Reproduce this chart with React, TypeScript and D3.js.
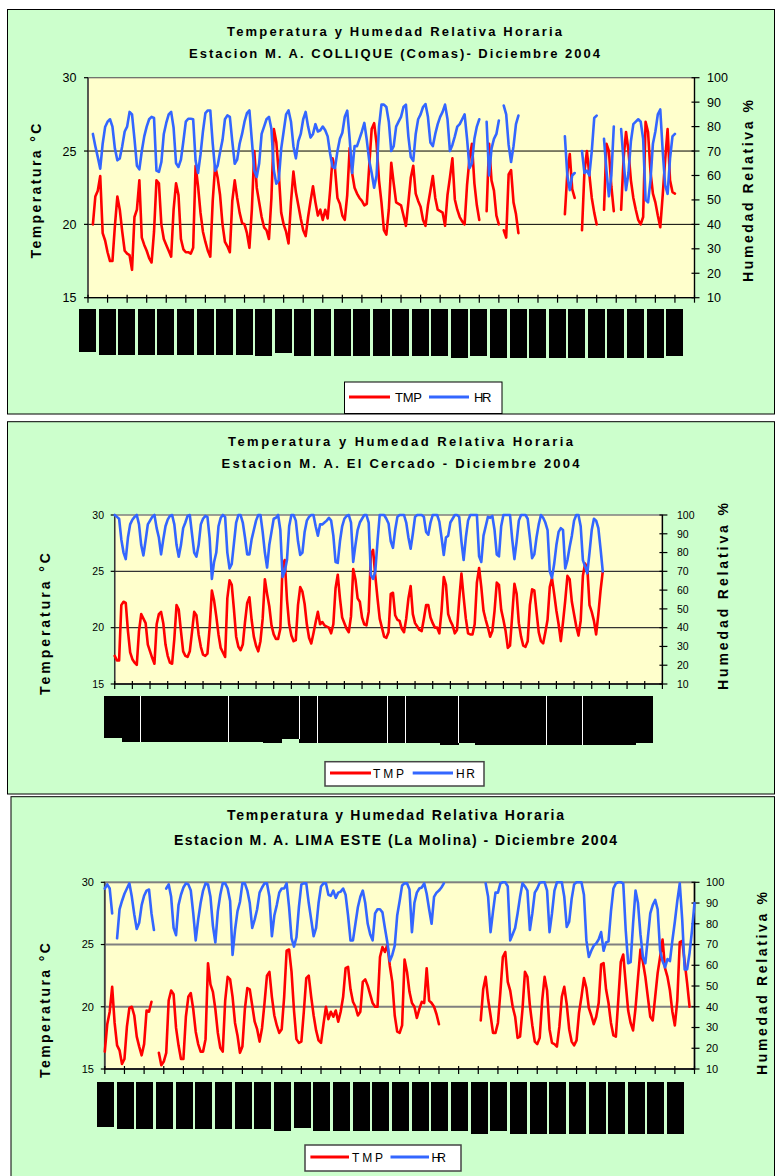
import React from "react";
import * as d3 from "d3";

const _ = null;

// Values sampled every 3 hours (00,03,06,09,12,15,18,21 h) for each day of December 2004.
// ---------- Estacion M. A. COLLIQUE (Comas) ----------
const collTmp: (number | null)[] = [
  _, _, 20, 21.9, 22.3, 23.3, 19.4, 18.9,
  18.1, 17.5, 17.5, 19.9, 21.9, 21, 19.5, 18.2,
  18, 17.9, 16.9, 20.5, 21, 23, 19.1, 18.6,
  18.2, 17.7, 17.4, 19.5, 23, 22.8, 20, 19,
  18.6, 18.2, 17.8, 21, 22.8, 22, 19, 18.3,
  18.1, 18.1, 18, 18.4, 24, 22.6, 20.8, 19.5,
  18.8, 18.2, 17.8, 21.6, 24, 23.2, 22, 20,
  18.8, 18.5, 18.1, 21.6, 23, 21.8, 20.8, 20.1,
  20, 19.4, 18.4, 21, 25, 22.5, 21.5, 20.5,
  19.8, 19.6, 19, 21.8, 26.5, 25.6, 23.5, 20.8,
  20, 19.5, 18.7, 21.5, 23.6, 22.2, 21.3, 20.4,
  19.6, 19.2, 20.5, 21.6, 22.6, 21.5, 20.6, 21,
  20.3, 21, 20.4, 22.3, 24.5, 23.8, 21.8, 21.4,
  20.6, 20.3, 22, 25.2, 23.5, 22.5, 22.1, 21.8,
  21.6, 21.3, 21.4, 24, 26.5, 26.9, 25.5, 23,
  21.5, 19.6, 19.3, 21, 24.2, 22.8, 21.5, 21.4,
  21.3, 20.6, 19.9, 21.5, 23.2, 24, 22.1, 21.6,
  21.2, 20.3, 19.9, 21.3, 22.3, 23.3, 21.8, 21,
  20.9, 20.8, 19.9, 22, 23.2, 24.5, 21.7, 21,
  20.5, 20.2, 20, 22.7, 24.5, 25.5, 22.8, 21.3,
  20.3, _, _, 20.9, 25.5, 23, 22.3, 20.6,
  20, _, 19.6, 19.1, 23.4, 23.7, 21.5, 20.7,
  19.4, _, _, _, _, _, _, _,
  _, _, _, _, _, _, _, _,
  _, _, _, 20.7, 23.5, 24.8, 22.4, 21.8,
  _, _, 19.6, 23.6, 25, 23.4, 21.8, 20.8,
  20, _, _, 21, 25.5, 25, 22.6, 20.9,
  _, _, 21, 24.5, 26.3, 25, 23, 21.8,
  21, 20.3, 20, 20.5, 27, 26.3, 23.6, 22.1,
  21.5, 20.6, 19.8, 22, 24.4, 26.5, 23, 22.2,
  22.1, _, _, _, _, _, _, _,
];
const collHr: (number | null)[] = [
  _, _, 77, 72, 67.5, 62.8, 73, 79.8,
  82, 83, 80, 71, 66.2, 67, 72, 78,
  80, 86, 85, 75, 64, 62.5, 70, 76,
  80, 83, 84, 83.5, 62, 61.5, 65.5, 77,
  81.5, 85, 86, 79.5, 65, 63.5, 66.5, 74,
  82, 83.2, 83.2, 83, 66, 61, 68.5, 78,
  85.5, 86.6, 86.6, 73, 62, 64, 69.5, 74.5,
  83, 84.6, 84, 74, 64.8, 66.5, 73, 77,
  82, 85.5, 86.6, 74.4, 62, 59.4, 65, 77,
  80, 83, 84, 79, 62, 56.6, 58, 71,
  78, 85, 86.6, 82, 72, 67, 74, 77,
  83, 86, 80, 75.5, 77, 81, 78, 78.5,
  80, 78.5, 76, 69, 63.5, 63, 70, 75,
  77.5, 84, 86.5, 75, 61, 72, 72, 75,
  78, 81.5, 74.5, 66, 61, 55, 60, 80,
  89, 89, 88, 82, 70, 72, 80, 82,
  84, 88, 89, 76, 67.5, 66, 77, 83,
  85, 88, 89.2, 84, 73.5, 72, 77, 81,
  84, 86, 89, 83, 70, 72.5, 76, 80,
  81, 83, 85, 75, 63, 65, 75, 80,
  83, _, _, 82, 60, 71, 75, 77,
  82.5, _, 88.6, 85, 72.5, 65.5, 72, 81,
  84.5, _, _, _, _, _, _, _,
  _, _, _, _, _, _, _, _,
  _, _, _, 76, 60, 54, 60, 61,
  _, _, 70, 61, 62, 60, 70, 83.5,
  84.5, _, _, 75, 62, 51.5, 60, 80,
  _, _, 79, 66, 54, 61, 74, 81,
  82, 83, 82, 75, 50, 49, 58, 73,
  78, 85, 87, 70, 56, 52.5, 67, 76,
  77, _, _, _, _, _, _, _,
];

// ---------- Estacion M. A. El Cercado ----------
const cercTmp: (number | null)[] = [
  17.5, 17.1, 17.1, 22, 22.3, 22.2, 19.7, 17.8,
  17.2, 16.9, 16.7, 19.7, 21.2, 20.8, 20.4, 18.5,
  17.9, 17.3, 16.8, 20.3, 21.2, 21.4, 20.4, 18.5,
  17.5, 16.9, 16.8, 19, 22, 21.6, 19.7, 17.9,
  17.5, 17.4, 17.9, 19.6, 21.4, 21.1, 19.4, 18.3,
  17.6, 17.5, 17.7, 20, 23.3, 22.4, 21, 19.4,
  18.2, 17.8, 17.4, 22.6, 24.2, 23.8, 21.6, 19.2,
  18.3, 18, 18.5, 20.5, 22.2, 22.7, 20.7, 19.2,
  18.4, 17.9, 18.8, 20.8, 24.3, 23, 21.9, 20.2,
  19.4, 19, 19, 19.9, 25.5, 26, 22.5, 20.3,
  19.3, 18.8, 18.9, 22, 23.6, 23.2, 22.1, 20.3,
  19.1, 18.6, 19.5, 20.5, 21.4, 20.3, 20.5, 20.2,
  20.1, 20, 19.5, 20.3, 23.5, 24.7, 22.6, 20.9,
  20.4, 19.9, 19.6, 21, 25.2, 24.3, 22.6, 22.3,
  20.9, 20.3, 20.2, 21.4, 26.5, 26.9, 24.6, 22.6,
  20.8, 20, 19.2, 19.1, 19.6, 23, 23.1, 21.1,
  20.7, 20.6, 19.9, 19.6, 20.8, 22.6, 23.7, 21.2,
  20.4, 20.1, 19.8, 19.7, 20.8, 22, 22, 20.9,
  20.4, 20, 20, 19.5, 21.5, 24.5, 23.8, 21.2,
  20.6, 20.2, 19.5, 19.8, 22.5, 24.8, 22.7, 20.8,
  19.5, 19.4, 19.4, 20.3, 24, 25.3, 23.6, 21.5,
  20.7, 20, 19.2, 19.7, 21.5, 24, 23.8, 21.6,
  20.7, 19.7, 18.2, 18.4, 21.1, 23.9, 23, 20.4,
  19.2, 18.4, 18.3, 18.8, 22, 23.4, 23.3, 21.4,
  19.6, 18.8, 18.6, 19.6, 20.7, 23.6, 24.4, 23,
  21.5, 20.3, 18.8, 20.5, 22.4, 24.6, 24.3, 22.3,
  21.2, 20.1, 19.3, 20.6, 24.6, 25.7, 25.3, 22,
  21.4, 20.6, 19.4, 21.2, 23.3, 25, _, _,
  _, _, _, _, _, _, _, _,
  _, _, _, _, _, _, _, _,
  _, _, _, _, _, _, _, _,
];
const cercHr: (number | null)[] = [
  100, 99, 98, 87, 80, 76.5, 88, 95,
  97.5, 99, 100, 95, 84, 78.5, 86.5, 95,
  97, 99, 100, 93, 88, 79, 87, 94,
  97.5, 99.5, 100, 95, 84, 77.8, 84, 93,
  96, 99.5, 100, 90, 80, 77.8, 84, 95,
  98, 99.5, 99, 87.5, 66, 75, 80, 94,
  98.5, 100, 99, 80, 71.5, 74, 85, 96,
  100, 100, 96, 88, 79, 79, 87, 92,
  97, 100, 100, 91, 80, 72, 84, 91,
  98, 98.5, 100, 92, 67, 70, 76, 94,
  100, 100, 97, 86, 78.7, 80, 91, 97,
  99, 100, 100, 94, 89, 95, 95, 96,
  97, 98.5, 97, 89, 75, 74.5, 86, 94,
  98, 99.5, 100, 96, 75, 84, 92, 96,
  98, 100, 100, 96, 68, 66, 70, 86,
  100, 100, 100, 98, 95.5, 86, 82.5, 92,
  99, 100, 100, 100, 96, 88, 82, 90,
  99, 100, 100, 100, 99, 91, 89.5, 96,
  100, 100, 100, 96.5, 88, 78.7, 88, 89,
  96, 98, 100, 100, 99, 86, 76, 88,
  97, 100, 100, 100, 100, 78, 75, 89,
  94, 99, 98.5, 99.5, 92, 79, 78, 94,
  100, 100, 100, 100, 87, 76.5, 86, 97,
  100, 100, 100, 98, 88, 77, 79, 88,
  95, 100, 98.5, 96, 92, 70, 66.5, 74,
  84, 91, 93, 92, 71.5, 76, 83, 89,
  97, 100, 100, 94, 76, 72.5, 69, 80,
  92, 98, 97, 93, 82, 70, _, _,
  _, _, _, _, _, _, _, _,
  _, _, _, _, _, _, _, _,
  _, _, _, _, _, _, _, _,
];

// ---------- Estacion M. A. LIMA ESTE (La Molina) ----------
const limaTmp: (number | null)[] = [
  16.4, 18.6, 19.6, 21.6, 18.7, 16.9, 16.5, 15.4,
  15.8, 18.4, 19.9, 20, 19.3, 17.6, 16.8, 16.1,
  17, 19.7, 19.6, 20.4, _, _, 16.3, 15.3,
  15.6, 16.3, 20.5, 21.3, 21, 18.3, 16.9, 15.8,
  15.8, 19.2, 20.8, 21.1, 19.8, 18, 17, 16.4,
  16.4, 17.4, 23.5, 21.8, 21.2, 19.8, 17.9, 16.7,
  16.4, 20.5, 22.4, 22.2, 20.8, 18.7, 17.7, 16.3,
  16.8, 19.8, 21.5, 21.4, 20.1, 18.8, 18.2, 17.2,
  18.3, 20.3, 22.5, 22.8, 20.8, 19.3, 18.5, 17.9,
  18.2, 20.8, 24.5, 24.6, 22.8, 19.7, 17.4, 17.1,
  17.2, 19.6, 22.3, 22.5, 20.8, 19.3, 18.1, 17.3,
  17.1, 18.6, 20, 19, 19.6, 19.2, 19.7, 18.8,
  19.6, 20.8, 23.1, 23.2, 21.4, 20.4, 20, 19.3,
  19.6, 22, 22.2, 21.7, 21, 20.3, 20, 20,
  24, 24.8, 24.4, 25, 23.3, 22, 19.3, 18,
  17.9, 18.5, 23.8, 22.8, 21.2, 20.3, 20, 19.1,
  19.8, 20.4, 20.3, 23.1, 20.5, 20.3, 20, 19.4,
  18.6, _, _, _, _, _, _, _,
  _, _, _, _, _, _, _, _,
  _, 18.9, 21.4, 22.4, 20.6, 19.3, 17.9, 17.9,
  18.7, 21.2, 24, 24.4, 22, 21.3, 20, 19.2,
  17.5, 17.6, 19.8, 22.8, 22.4, 20.1, 18.5, 17.2,
  17, 17.5, 20.5, 22.4, 21.3, 18.2, 17.1, 17,
  16.8, 18.4, 20.8, 21.6, 20.2, 18.2, 17.2, 16.9,
  17.3, 19.5, 20.8, 22.3, 21.5, 19.9, 19.3, 18.6,
  19.2, 20.3, 23.4, 23.5, 21.4, 20.3, 18.7, 17.7,
  17.6, 20.6, 23.6, 24.2, 21.9, 19.7, 18.7, 18.1,
  19.9, 22.3, 24.6, 23.6, 22.4, 20.8, 19.2, 18.9,
  20.8, 22.7, 24, 25.4, 23.1, 22.4, 21.3, 19.6,
  18.5, 20.5, 25.2, 25.3, 23.6, 21.9, 20, _,
  _,
];
const limaHr: (number | null)[] = [
  97, 99, 97, 85, _, 73, 87, 91,
  94.5, 97, 99.5, 93, 84.5, 77.5, 80.5, 89,
  93.5, 96, 96.5, 85, 77, _, _, _,
  _, 97, 99, 93, 78, 74.5, 89, 94,
  97.5, 99.5, 99, 96, 85, 72, 82, 90,
  96, 99.5, 99, 93, 79, 71, 86, 94,
  99.5, 99.5, 97, 91, 65, 77, 86, 90.5,
  99.5, 99.5, 96, 90, 78, 82, 87, 95,
  97.5, 99.5, 99.5, 93, 74, 84, 89, 95,
  97, 97, 99.5, 88, 73, 69, 73.5, 88,
  99, 99.5, 99.5, 90, 82, 74, 78, 90,
  98, 99.5, 99.5, 94, 93.5, 96, 92.5, 95,
  95.5, 97, 94, 84, 72, 72, 80, 88,
  93, 96, 90, 80, 75, 72, 85, 87,
  87, 85.5, 78, 71, 62, 65, 69.5, 84,
  91, 98.5, 99.5, 99.5, 96.5, 76, 90, 95,
  97, 97.5, 99.5, 94.5, 87, 80, 93, 95,
  96, 97.5, 99.5, _, _, _, _, _,
  _, _, _, _, _, _, _, _,
  _, _, _, 99.5, 93, 76, 86, 95,
  95, 99.5, 100, 100, 98, 72, 75, 78,
  85, 93, 99.5, 98, 96, 77, 85, 95,
  97, 99.8, 100, 100, 96, 76, 85, 96,
  100, 100, 100, 93, 78.5, 81, 92, 99,
  100, 100, 100, 94, 72, 64, 67, 69.5,
  70.5, 72.5, 76, 67, 71, 71.5, 86, 97,
  99.5, 100, 100, 99.5, 77, 61, 61.5, 80,
  96, 90, 75, 64, 61, 73, 85, 89,
  91.5, 87, 67, 62, 59, 63, 62, 72,
  81, 91, 99.5, 82, 58, 58, 66, 77,
  90,
];

const tmpTicks = [15, 20, 25, 30];
const hrTicks = [10, 20, 30, 40, 50, 60, 70, 80, 90, 100];
const tmpGrid = [20, 25];
const titleLine1 = "Temperatura y Humedad Relativa Horaria";
const stationTitles = [
  "Estacion M. A. COLLIQUE (Comas)- Diciembre 2004",
  "Estacion M. A. El Cercado - Diciembre 2004",
  "Estacion M. A. LIMA ESTE (La Molina) - Diciembre 2004",
];
const daysShown = [31, 31, 30];
const leftTitle = "Temperatura °C";
const rightTitle = "Humedad Relativa %";
const seriesNames = ["TMP", "HR"];
const hoursPerSample = 3;

// ---------- layout / style ----------
const FONT = "'Liberation Sans', Arial, Helvetica, sans-serif";
const RED = "#FF0000";
const BLUE = "#3366FF";

const layouts = [
  {
    frame: { x: 7.5, y: 9.5, r: 774.5, b: 414 },
    plot: { l: 88, r: 694.5, t: 77.7, b: 297.7 },
    title: { cx: 394.5, y1: 35.5, y2: 57.5, len1: 335, len2: 411, size: 13 },
    lab: { lx: 76.5, rx: 707, size: 12.5 },
    grid: { color: "#000", w: 1 },
    border: { color: "#666", w: 1.2 },
    lt: { x: 41, cy: 191, len: 135 },
    rt: { x: 753, cy: 191, len: 182 },
    box: {
      top: 309, w: 17, dx: -0.3, touch: false, gaps: [] as number[],
      depth: [42.7, 46, 46, 46, 46, 46, 46, 46, 46, 47, 43.7, 47, 47, 47, 47, 47, 47, 47, 47, 49, 47, 49, 49, 49, 49, 49, 49, 49, 49, 49, 47],
    },
    legend: { x: 344.5, y: 382, w: 157.5, h: 31.5, ly: 397, t1: [349, 390], tx1: 395, tl1: 27, t2: [429, 469], tx2: 474, tl2: 17.5, base: 401.5, size: 13, stroke: "#000", sw: 1 },
  },
  {
    frame: { x: 7.5, y: 421.7, r: 774.5, b: 794 },
    plot: { l: 114.7, r: 662.4, t: 515, b: 684 },
    title: { cx: 400.5, y1: 446, y2: 468, len1: 345, len2: 358, size: 13 },
    lab: { lx: 104, rx: 677, size: 10.5 },
    grid: { color: "#333", w: 1.2 },
    border: { color: "#808080", w: 1.5 },
    lt: { x: 49.5, cy: 624, len: 142 },
    rt: { x: 728, cy: 596.5, len: 187 },
    box: {
      top: 696, w: 0, dx: -0.8, touch: true, gaps: [1, 6, 10, 11, 15, 16, 19, 24, 26],
      depth: [42, 46, 46, 46, 46, 46, 46, 46, 46, 47, 43, 47, 47, 47, 47, 47, 47, 47, 47, 49, 47, 49, 49, 49, 49, 49, 49, 49, 49, 49, 47],
    },
    legend: { x: 325, y: 761.7, w: 159, h: 24.3, ly: 773, t1: [330, 371], tx1: 373, tl1: 31, t2: [412.7, 453], tx2: 456, tl2: 19, base: 777.5, size: 12, stroke: "#444", sw: 1.5 },
  },
  {
    frame: { x: 11, y: 796.7, r: 774.5, b: 1190 },
    plot: { l: 104.8, r: 694.5, t: 882.3, b: 1069 },
    title: { cx: 395.5, y1: 820, y2: 844.5, len1: 337, len2: 443, size: 14 },
    lab: { lx: 94, rx: 706, size: 11 },
    grid: { color: "#808080", w: 2 },
    border: { color: "#808080", w: 2 },
    lt: { x: 50, cy: 1010.5, len: 135 },
    rt: { x: 767, cy: 983.5, len: 183 },
    box: {
      top: 1081.7, w: 17, dx: 0.8, touch: false, gaps: [] as number[],
      depth: [45, 47.6, 47.6, 47.6, 47.6, 47.6, 47.6, 47.6, 47.6, 49, 46.6, 49, 49, 49, 49, 49, 49, 49, 49, 52.6, 49, 52.6, 52.6, 52.6, 52.6, 52.6, 52.6, 52.6, 52.6, 52.6],
    },
    legend: { x: 305, y: 1145, w: 156, h: 26, ly: 1157, t1: [310.4, 349], tx1: 352, tl1: 31, t2: [390.5, 429], tx2: 431.5, tl2: 14.5, base: 1161.5, size: 12, stroke: "#444", sw: 1.5 },
  },
];

type Series = (number | null)[];

function Panel({ L, tmp, hr, days, station }: { L: any; tmp: Series; hr: Series; days: number; station: string }) {
  const P = L.plot;
  const x = d3.scaleLinear().domain([0, days * 24]).range([P.l, P.r]);
  const yT = d3.scaleLinear().domain([15, 30]).range([P.b, P.t]);
  const yH = d3.scaleLinear().domain([10, 100]).range([P.b, P.t]);
  const mk = (ys: d3.ScaleLinear<number, number>) =>
    d3
      .line<number | null>()
      .defined((d) => d != null)
      .x((_d, i) => x(i * hoursPerSample))
      .y((d) => ys(d as number));
  const step = x(24) - x(0);
  const dayIdx = d3.range(days + 1);
  const boxes = d3.range(days);

  return (
    <g fontFamily={FONT}>
      <rect x={L.frame.x} y={L.frame.y} width={L.frame.r - L.frame.x} height={L.frame.b - L.frame.y} fill="#CCFFCC" stroke="#000" strokeWidth={1} />
      <text x={L.title.cx} y={L.title.y1} textAnchor="middle" fontWeight="bold" fontSize={L.title.size} textLength={L.title.len1} lengthAdjust="spacing">
        {titleLine1}
      </text>
      <text x={L.title.cx} y={L.title.y2} textAnchor="middle" fontWeight="bold" fontSize={L.title.size} textLength={L.title.len2} lengthAdjust="spacing">
        {station}
      </text>

      <rect x={P.l} y={P.t} width={P.r - P.l} height={P.b - P.t} fill="#FFFFCC" stroke={L.border.color} strokeWidth={L.border.w} />
      {tmpGrid.map((v) => (
        <line key={"g" + v} x1={P.l} x2={P.r} y1={yT(v)} y2={yT(v)} stroke={L.grid.color} strokeWidth={L.grid.w} />
      ))}

      {/* axes */}
      <line x1={P.l} x2={P.l} y1={P.t} y2={P.b} stroke="#333" strokeWidth={1.3} />
      <line x1={P.r} x2={P.r} y1={P.t} y2={P.b} stroke="#000" strokeWidth={1.3} />
      <line x1={P.l} x2={P.r} y1={P.b} y2={P.b} stroke="#000" strokeWidth={1.3} />
      {tmpTicks.map((v) => (
        <g key={"lt" + v}>
          <line x1={P.l - 4} x2={P.l} y1={yT(v)} y2={yT(v)} stroke="#000" strokeWidth={1.2} />
          <text x={L.lab.lx} y={yT(v) + L.lab.size * 0.36} textAnchor="end" fontSize={L.lab.size}>
            {v}
          </text>
        </g>
      ))}
      {hrTicks.map((v) => (
        <g key={"rt" + v}>
          <line x1={P.r - 3} x2={P.r + 5} y1={yH(v)} y2={yH(v)} stroke="#000" strokeWidth={1.2} />
          <text x={L.lab.rx} y={yH(v) + L.lab.size * 0.36} textAnchor="start" fontSize={L.lab.size}>
            {v}
          </text>
        </g>
      ))}
      {dayIdx.map((k) => (
        <line key={"xt" + k} x1={x(k * 24)} x2={x(k * 24)} y1={P.b - 3} y2={P.b + 5} stroke="#000" strokeWidth={1.2} />
      ))}

      {/* series */}
      <path d={mk(yT)(tmp) || ""} fill="none" stroke={RED} strokeWidth={2.6} strokeLinejoin="round" strokeLinecap="round" />
      <path d={mk(yH)(hr) || ""} fill="none" stroke={BLUE} strokeWidth={2.6} strokeLinejoin="round" strokeLinecap="round" />

      {/* day labels (blacked out as in the reference) */}
      <g shapeRendering="crispEdges">
        {boxes.map((k) => {
          const cx = x(k * 24) + L.box.dx;
          const w = L.box.touch ? step + 1.2 : L.box.w;
          return <rect key={"b" + k} x={cx - w / 2} y={L.box.top} width={w} height={L.box.depth[k]} fill="#000" />;
        })}
        {L.box.gaps.map((k: number) => {
          const gx = x(k * 24) + L.box.dx + step / 2;
          const d = Math.min(L.box.depth[k], L.box.depth[k + 1]);
          return <rect key={"gap" + k} x={gx - 0.5} y={L.box.top} width={1} height={d} fill="#fff" />;
        })}
      </g>

      {/* axis titles */}
      <text transform={`translate(${L.lt.x},${L.lt.cy}) rotate(-90)`} textAnchor="middle" fontWeight="bold" fontSize={14} textLength={L.lt.len} lengthAdjust="spacing">
        {leftTitle}
      </text>
      <text transform={`translate(${L.rt.x},${L.rt.cy}) rotate(-90)`} textAnchor="middle" fontWeight="bold" fontSize={14} textLength={L.rt.len} lengthAdjust="spacing">
        {rightTitle}
      </text>

      {/* legend */}
      <rect x={L.legend.x} y={L.legend.y} width={L.legend.w} height={L.legend.h} fill="#fff" stroke={L.legend.stroke} strokeWidth={L.legend.sw} />
      <line x1={L.legend.t1[0]} x2={L.legend.t1[1]} y1={L.legend.ly} y2={L.legend.ly} stroke={RED} strokeWidth={3} />
      <text x={L.legend.tx1} y={L.legend.base} fontSize={L.legend.size} textLength={L.legend.tl1} lengthAdjust="spacing">
        {seriesNames[0]}
      </text>
      <line x1={L.legend.t2[0]} x2={L.legend.t2[1]} y1={L.legend.ly} y2={L.legend.ly} stroke={BLUE} strokeWidth={3} />
      <text x={L.legend.tx2} y={L.legend.base} fontSize={L.legend.size} textLength={L.legend.tl2} lengthAdjust="spacing">
        {seriesNames[1]}
      </text>
    </g>
  );
}

export default function App() {
  const tmps = [collTmp, cercTmp, limaTmp];
  const hrs = [collHr, cercHr, limaHr];
  return (
    <svg width={775} height={1176} viewBox="0 0 775 1176" style={{ position: "absolute", left: 0, top: 0, background: "#fff" }}>
      {layouts.map((L, i) => (
        <Panel key={i} L={L} tmp={tmps[i]} hr={hrs[i]} days={daysShown[i]} station={stationTitles[i]} />
      ))}
    </svg>
  );
}
